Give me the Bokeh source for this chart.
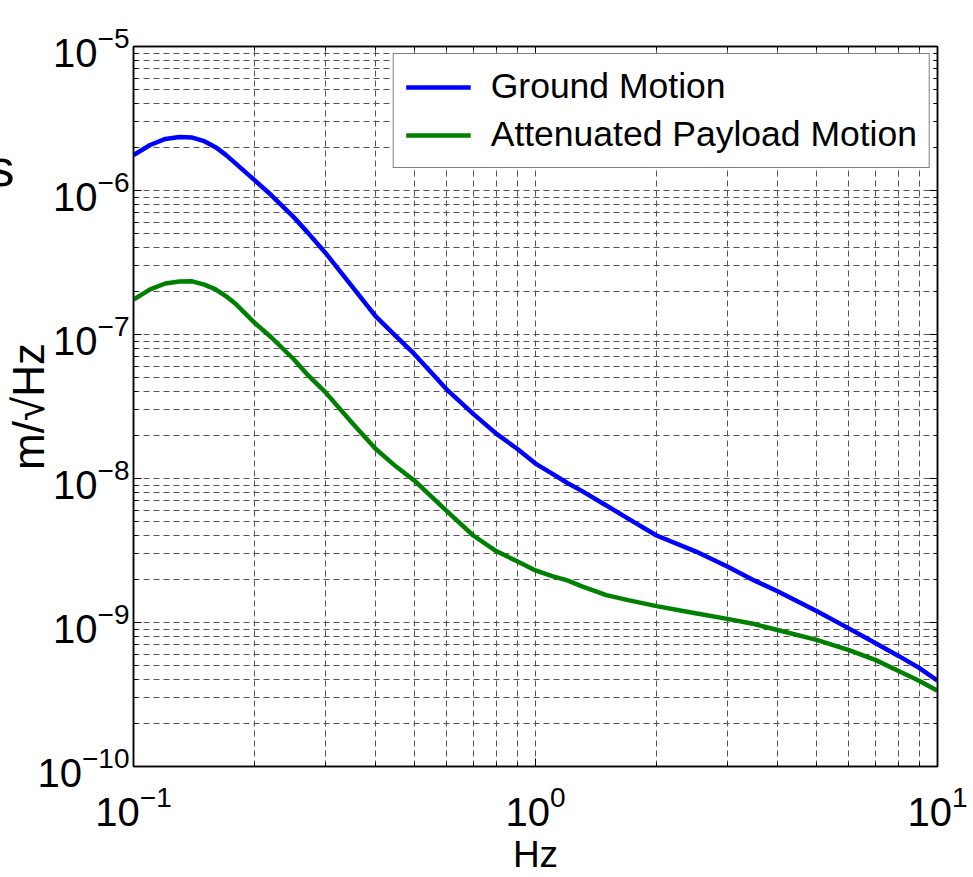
from bokeh.plotting import figure
from bokeh.models import (ColumnDataSource, FixedTicker, LogAxis, Legend, LegendItem,
                          LogTickFormatter)
from bokeh.embed import file_html
from bokeh.resources import INLINE

# ---------------- data ----------------
freq = [0.1, 0.11, 0.12, 0.13, 0.14, 0.15, 0.16, 0.17, 0.18, 0.2, 0.22, 0.25, 0.27,
        0.3, 0.35, 0.4, 0.45, 0.5, 0.6, 0.7, 0.8, 0.9, 1.0, 1.1, 1.2, 1.3, 1.5,
        1.7, 2.0, 2.5, 3.0, 3.5, 4.0, 5.0, 6.0, 7.0, 8.0, 9.0, 10.0]
ground = [1.76e-6, 2.07e-6, 2.28e-6, 2.35e-6, 2.33e-6, 2.2e-6, 2.0e-6, 1.76e-6,
          1.53e-6, 1.18e-6, 9.3e-7, 6.56e-7, 5.18e-7, 3.70e-7, 2.15e-7, 1.34e-7,
          9.7e-8, 7.3e-8, 4.18e-8, 2.81e-8, 2.04e-8, 1.61e-8, 1.27e-8, 1.08e-8,
          9.3e-9, 8.24e-9, 6.5e-9, 5.27e-9, 4.02e-9, 3.12e-9, 2.45e-9, 1.96e-9,
          1.65e-9, 1.2e-9, 9.14e-10, 7.2e-10, 5.86e-10, 4.84e-10, 3.94e-10]
payload = [1.75e-7, 2.06e-7, 2.26e-7, 2.33e-7, 2.34e-7, 2.22e-7, 2.06e-7, 1.84e-7,
           1.62e-7, 1.21e-7, 9.57e-8, 6.76e-8, 5.31e-8, 3.98e-8, 2.43e-8, 1.61e-8,
           1.21e-8, 9.66e-9, 5.98e-9, 4.02e-9, 3.12e-9, 2.66e-9, 2.30e-9, 2.1e-9,
           1.96e-9, 1.79e-9, 1.55e-9, 1.43e-9, 1.3e-9, 1.16e-9, 1.06e-9, 9.75e-10,
           8.87e-10, 7.57e-10, 6.45e-10, 5.5e-10, 4.61e-10, 3.94e-10, 3.36e-10]

series_names = ["Ground Motion", "Attenuated Payload Motion"]

x_major = [0.1, 1.0, 10.0]
y_major = [1e-10, 1e-9, 1e-8, 1e-7, 1e-6, 1e-5]
mantissas = [2, 3, 4, 5, 6, 7, 8, 9]

x_label = "Hz"
y_label = "m/\u221aHz"
stray_text = "s"
stray_y = 1.43e-6

# ---------------- styles ----------------
FONT = "Liberation Sans"
GRID_COLOR = "#555555"
GRID_DASH = "6 4"

x_minor = [m * d for d in x_major[:-1] for m in mantissas]
y_minor = [m * d for d in y_major[:-1] for m in mantissas]

p = figure(width=973, height=877, x_axis_type="log", y_axis_type="log",
           x_range=(x_major[0], x_major[-1]), y_range=(y_major[0], y_major[-1]),
           output_backend="svg", toolbar_location=None,
           min_border_left=132, min_border_right=36, min_border_top=46,
           min_border_bottom=108)
p.background_fill_color = "white"
p.border_fill_color = "white"
p.outline_line_color = "black"
p.outline_line_width = 1.5

xt = FixedTicker(ticks=x_major, minor_ticks=x_minor)
yt = FixedTicker(ticks=y_major, minor_ticks=y_minor)


def style_axis(ax, ticks, show_labels):
    ax.ticker = ticks
    if show_labels:
        ax.formatter = LogTickFormatter()
        ax.major_label_text_font = FONT
        ax.major_label_text_font_size = "40px"
        ax.major_label_text_color = "black"
    else:
        ax.major_label_overrides = {t: "" for t in ticks.ticks}
        ax.major_label_text_font_size = "1px"
        ax.major_label_standoff = 0
    ax.axis_line_color = "black"
    ax.axis_line_width = 1.5
    ax.major_tick_in = 8
    ax.major_tick_out = 0
    ax.minor_tick_in = 4
    ax.minor_tick_out = 0
    ax.major_tick_line_color = "black"
    ax.minor_tick_line_color = "black"


xa = p.xaxis[0]
ya = p.yaxis[0]
style_axis(xa, xt, True)
style_axis(ya, yt, True)
xa.major_label_standoff = 18
ya.major_label_standoff = 4

xa.axis_label = x_label
xa.axis_label_text_font = FONT
xa.axis_label_text_font_size = "37px"
xa.axis_label_text_font_style = "normal"
xa.axis_label_text_color = "black"
xa.axis_label_standoff = 5

top_ax = LogAxis()
right_ax = LogAxis()
style_axis(top_ax, xt, False)
style_axis(right_ax, yt, False)
p.add_layout(top_ax, "above")
p.add_layout(right_ax, "right")

# outer left axis: carries the partly cut-off "s" of the reference and the y title
outer = LogAxis(ticker=FixedTicker(ticks=[stray_y], minor_ticks=[]))
outer.major_label_overrides = {stray_y: stray_text}
outer.major_label_text_font = FONT
outer.major_label_text_font_size = "52px"
outer.major_label_text_color = "black"
outer.major_label_standoff = 20
outer.major_tick_in = 0
outer.major_tick_out = 0
outer.minor_tick_in = 0
outer.minor_tick_out = 0
outer.axis_line_color = None
outer.major_tick_line_color = None
outer.minor_tick_line_color = None
outer.axis_label = y_label
outer.axis_label_text_font = FONT
outer.axis_label_text_font_size = "44px"
outer.axis_label_text_font_style = "normal"
outer.axis_label_text_color = "black"
outer.axis_label_standoff = -67
p.add_layout(outer, "left")

for g in (p.xgrid[0], p.ygrid[0]):
    g.grid_line_color = GRID_COLOR
    g.grid_line_dash = GRID_DASH
    g.grid_line_width = 1
    g.minor_grid_line_color = GRID_COLOR
    g.minor_grid_line_dash = GRID_DASH
    g.minor_grid_line_width = 1
p.xgrid[0].ticker = xt
p.ygrid[0].ticker = yt

src = ColumnDataSource(dict(f=freq, g=ground, a=payload))
r1 = p.line("f", "g", source=src, line_color="#0000ff", line_width=4.5)
r2 = p.line("f", "a", source=src, line_color="#008000", line_width=4.5)

legend = Legend(items=[LegendItem(label=series_names[0], renderers=[r1]),
                       LegendItem(label=series_names[1], renderers=[r2])],
                location="top_right")
legend.margin = 7
legend.padding = 12
legend.spacing = 7
legend.glyph_width = 65
legend.glyph_height = 38
legend.label_height = 38
legend.label_standoff = 20
legend.label_text_font = FONT
legend.label_text_font_size = "35.5px"
legend.label_text_color = "black"
legend.border_line_color = "black"
legend.border_line_width = 1.5
legend.background_fill_color = "white"
legend.background_fill_alpha = 1.0
p.add_layout(legend)

open("out.html", "w").write(file_html(p, INLINE))
